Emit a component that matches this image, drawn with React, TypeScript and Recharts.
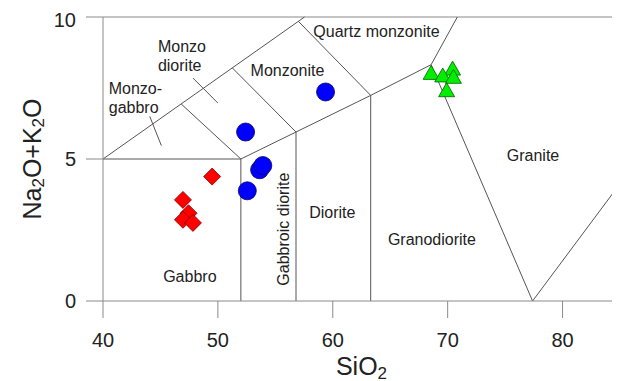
import { ScatterChart, Scatter, XAxis, YAxis, ReferenceLine } from 'recharts';

type Pt = { x: number; y: number };

const FONT = '"Liberation Sans", Arial, sans-serif';
const AXIS_COLOR = '#8a8a8a';
const FIELD_COLOR = '#555555';

const SIO2_TICKS = [40, 50, 60, 70, 80];
const ALKALI_TICKS = [0, 5, 10];

// sample analyses (SiO2 wt%, Na2O+K2O wt%)
const gabbroSamples: Pt[] = [
  { x: 49.5, y: 4.38 },
  { x: 46.96, y: 3.56 },
  { x: 47.45, y: 3.09 },
  { x: 46.96, y: 2.86 },
  { x: 47.83, y: 2.75 },
];

const dioriteSamples: Pt[] = [
  { x: 52.41, y: 5.95 },
  { x: 53.63, y: 4.62 },
  { x: 53.91, y: 4.77 },
  { x: 52.56, y: 3.88 },
  { x: 59.37, y: 7.36 },
];

const graniteSamples: Pt[] = [
  { x: 68.56, y: 8.05 },
  { x: 70.43, y: 8.2 },
  { x: 69.57, y: 7.96 },
  { x: 70.5, y: 7.91 },
  { x: 69.91, y: 7.44 },
];

// classification field boundaries, as polylines
const FIELD_BOUNDARIES: [number, number][][] = [
  [[40, 5], [57.54, 10]],
  [[40, 5], [52, 5], [52, 0]],
  [[52, 5], [56.8, 5.95], [63.3, 7.24], [68.56, 8.32], [70.84, 10]],
  [[56.8, 5.95], [56.8, 0]],
  [[63.3, 7.24], [63.3, 0]],
  [[68.56, 8.32], [77.39, 0], [85, 4.13]],
  [[57.0, 9.85], [63.3, 7.24]],
  [[51.25, 8.21], [56.8, 5.95]],
  [[46.8, 6.94], [52, 5]],
];

// short pointers from the monzo- labels into their fields
const LEADERS: [number, number][][] = [
  [[44.07, 6.5], [45.08, 5.47]],
  [[47.83, 7.85], [50.0, 6.97]],
];

const FIELD_LABELS = [
  { name: 'Monzo-\ngabbro', x: 40.5, y: 7.16 },
  { name: 'Monzo\ndiorite', x: 44.78, y: 8.65 },
  { name: 'Monzonite', x: 56.06, y: 8.14 },
  { name: 'Quartz monzonite', x: 63.8, y: 9.49 },
  { name: 'Granite', x: 77.43, y: 5.15 },
  { name: 'Gabbro', x: 47.56, y: 0.88 },
  { name: 'Gabbroic diorite', x: 55.74, y: 2.53 },
  { name: 'Diorite', x: 59.96, y: 3.15 },
  { name: 'Granodiorite', x: 68.63, y: 2.17 },
];

const LEFT_ALIGNED = new Set(['Monzo-\ngabbro', 'Monzo\ndiorite']);
const VERTICAL = new Set(['Gabbroic diorite']);

const toSegments = (lines: [number, number][][]) =>
  lines.flatMap((line) =>
    line.slice(1).map((p, i) => [
      { x: line[i][0], y: line[i][1] },
      { x: p[0], y: p[1] },
    ]),
  );

const Diamond = ({ cx, cy }: any) => {
  const r = 8.5;
  return (
    <polygon
      points={`${cx},${cy - r} ${cx + r},${cy} ${cx},${cy + r} ${cx - r},${cy}`}
      fill="#ff0000"
      stroke="#7a0000"
      strokeWidth={0.8}
    />
  );
};

const Dot = ({ cx, cy }: any) => (
  <circle cx={cx} cy={cy} r={9} fill="#0000ff" stroke="#000060" strokeWidth={0.8} />
);

const Triangle = ({ cx, cy }: any) => (
  <polygon
    points={`${cx},${cy - 7} ${cx + 8},${cy + 7} ${cx - 8},${cy + 7}`}
    fill="#00ee00"
    stroke="#006000"
    strokeWidth={0.8}
  />
);

const FieldLabel = ({ cx, cy, payload }: any) => {
  const name: string = payload.name;
  const lines = name.split('\n');
  const lineH = 19;
  const top = cy - ((lines.length - 1) * lineH) / 2;
  if (VERTICAL.has(name)) {
    return (
      <text
        x={cx}
        y={cy}
        transform={`rotate(-90 ${cx} ${cy})`}
        textAnchor="middle"
        dominantBaseline="central"
        fontFamily={FONT}
        fontSize={16}
        fill="#222"
      >
        {name}
      </text>
    );
  }
  return (
    <text
      textAnchor={LEFT_ALIGNED.has(name) ? 'start' : 'middle'}
      dominantBaseline="central"
      fontFamily={FONT}
      fontSize={16}
      fill="#222"
    >
      {lines.map((l, i) => (
        <tspan key={l} x={cx} y={top + i * lineH}>
          {l}
        </tspan>
      ))}
    </text>
  );
};

const XTitle = ({ viewBox }: any) => {
  const cx = viewBox.x + viewBox.width / 2;
  return (
    <text x={cx} y={367} textAnchor="middle" fontFamily={FONT} fontSize={25} fill="#222">
      SiO
      <tspan dy={4} fontSize={17}>
        2
      </tspan>
    </text>
  );
};

const YTitle = ({ viewBox }: any) => {
  const cx = 24;
  const cy = viewBox.y + viewBox.height / 2;
  return (
    <text
      x={cx}
      y={cy}
      transform={`rotate(-90 ${cx} ${cy})`}
      textAnchor="middle"
      dominantBaseline="central"
      fontFamily={FONT}
      fontSize={25}
      fill="#222"
    >
      Na
      <tspan dy={6} fontSize={17}>
        2
      </tspan>
      <tspan dy={-6}>O+K</tspan>
      <tspan dy={6} fontSize={17}>
        2
      </tspan>
      <tspan dy={-6}>O</tspan>
    </text>
  );
};

export default function App() {
  return (
    <ScatterChart width={612} height={373} margin={{ top: 9, right: 0, bottom: 0, left: 0 }}>
      <XAxis
        type="number"
        dataKey="x"
        domain={[40, 85]}
        ticks={SIO2_TICKS}
        allowDataOverflow
        height={80}
        stroke={AXIS_COLOR}
        tickSize={17}
        tickMargin={15}
        tick={{ fill: '#222', fontSize: 20, fontFamily: FONT }}
        label={{ content: XTitle }}
      />
      <YAxis
        type="number"
        dataKey="y"
        domain={[0, 10]}
        ticks={ALKALI_TICKS}
        allowDataOverflow
        width={95}
        stroke={AXIS_COLOR}
        tickSize={17}
        tickMargin={10}
        tick={{ fill: '#222', fontSize: 20, fontFamily: FONT }}
        label={{ content: YTitle }}
      />
      <ReferenceLine y={10} stroke={AXIS_COLOR} strokeWidth={1.2} ifOverflow="visible" />
      {toSegments(FIELD_BOUNDARIES).map((seg, i) => (
        <ReferenceLine key={`b${i}`} segment={seg} stroke={FIELD_COLOR} strokeWidth={1} ifOverflow="visible" />
      ))}
      {toSegments(LEADERS).map((seg, i) => (
        <ReferenceLine key={`l${i}`} segment={seg} stroke={FIELD_COLOR} strokeWidth={1} ifOverflow="visible" />
      ))}
      <Scatter data={FIELD_LABELS} shape={FieldLabel} isAnimationActive={false} />
      <Scatter data={gabbroSamples} shape={Diamond} isAnimationActive={false} />
      <Scatter data={dioriteSamples} shape={Dot} isAnimationActive={false} />
      <Scatter data={graniteSamples} shape={Triangle} isAnimationActive={false} />
    </ScatterChart>
  );
}
